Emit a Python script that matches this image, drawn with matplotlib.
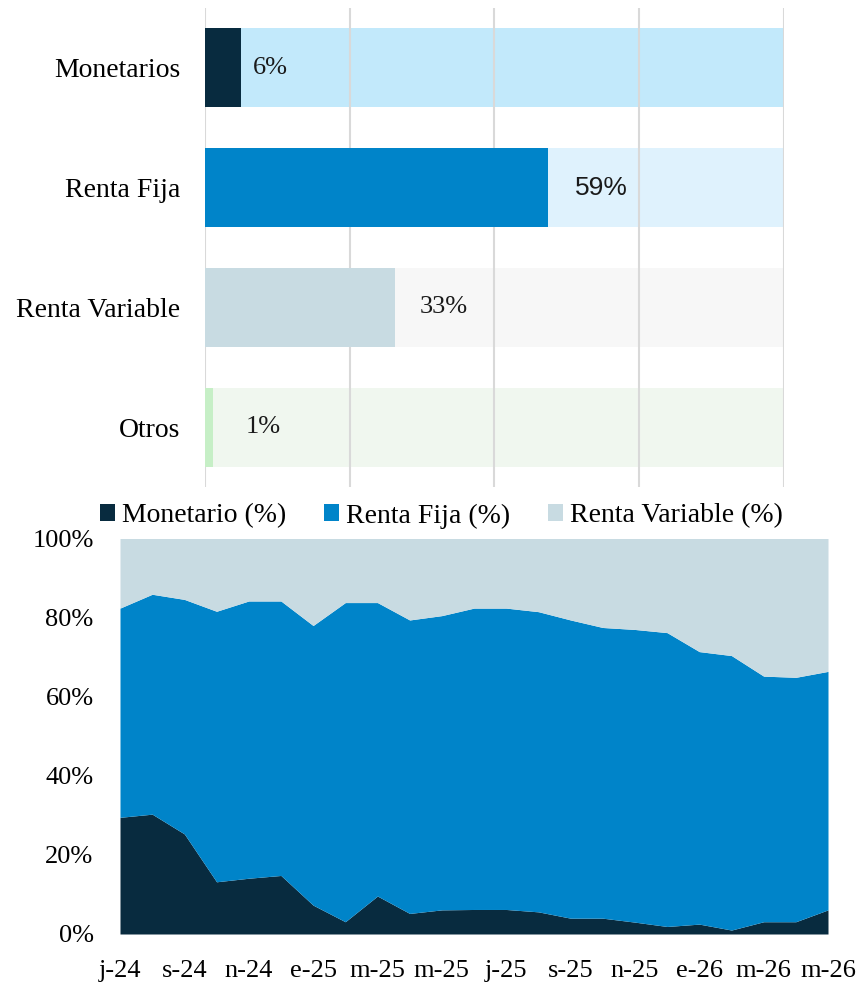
import matplotlib.pyplot as plt
import numpy as np

# === Data ===
asset_classes = ['Monetarios', 'Renta Fija', 'Renta Variable', 'Otros']
asset_pct = [6.2, 59.2, 32.8, 1.4]
asset_labels = ['6%', '59%', '33%', '1%']

month_labels = ['j-24', 's-24', 'n-24', 'e-25', 'm-25', 'm-25',
                'j-25', 's-25', 'n-25', 'e-26', 'm-26', 'm-26']
monetario = [29.5, 30.3, 25.3, 13.2, 14.1, 14.8, 7.3, 3.1, 9.6, 5.2, 6.1, 6.2,
             6.2, 5.6, 4.0, 4.0, 3.0, 1.9, 2.5, 1.0, 3.1, 3.1, 6.1]
mon_plus_rf = [82.4, 85.9, 84.6, 81.6, 84.2, 84.2, 78.0, 83.8, 83.8, 79.4, 80.5, 82.4,
               82.4, 81.5, 79.4, 77.5, 77.0, 76.2, 71.4, 70.4, 65.2, 64.9, 66.4]

# === Styles ===
fg_colors = ['#082B3F', '#0084C9', '#C8DBE2', '#C6EFC6']
bg_colors = ['#C2E9FB', '#DFF2FD', '#F7F7F7', '#F0F7EF']
label_pad = [12, 27, 25, 33]  # pixels after bar end
label_fonts = ['Liberation Serif', 'Liberation Sans', 'Liberation Serif', 'Liberation Serif']
grid_color = '#D9D9D9'

plt.rcParams['font.family'] = ['Liberation Serif', 'DejaVu Serif']

W, H = 864, 986
fig = plt.figure(figsize=(W / 100, H / 100), dpi=100)

# === Top: horizontal bars ===
ax1 = fig.add_axes([205 / W, 1 - 487 / H, (784 - 205) / W, (487 - 8) / H])
y = np.arange(len(asset_classes))
ax1.barh(y, [100] * len(y), height=0.66, color=bg_colors, zorder=1)
ax1.barh(y, asset_pct, height=0.66, color=fg_colors, zorder=3)
for xg in [0, 25, 50, 75, 100]:
    ax1.axvline(xg, color=grid_color, lw=1.5, zorder=2)
for i, v in enumerate(asset_pct):
    ax1.annotate(asset_labels[i], (v, i), xytext=(label_pad[i] * 0.72, 0),
                 textcoords='offset points', ha='left', va='center',
                 fontsize=19, family=label_fonts[i], color='#1a1a1a', zorder=4)
ax1.set_xlim(0, 100)
ax1.set_ylim(3.5, -0.5)
ax1.set_yticks(y)
ax1.set_yticklabels(asset_classes, fontsize=20)
ax1.tick_params(axis='y', length=0, pad=18)
ax1.set_xticks([])
for s in ax1.spines.values():
    s.set_visible(False)

# === Bottom: stacked area ===
ax2 = fig.add_axes([120 / W, 1 - 934 / H, (828 - 120) / W, (934 - 538.5) / H])
x = np.arange(len(monetario))
mon = np.array(monetario)
top = np.array(mon_plus_rf)
ax2.fill_between(x, 0, mon, color=fg_colors[0], lw=0, label='Monetario (%)')
ax2.fill_between(x, mon, top, color=fg_colors[1], lw=0, label='Renta Fija (%)')
ax2.fill_between(x, top, 100, color=fg_colors[2], lw=0, label='Renta Variable (%)')
ax2.set_xlim(0, len(x) - 1)
ax2.set_ylim(0, 100)
ax2.set_yticks([0, 20, 40, 60, 80, 100])
ax2.set_yticklabels([f'{t}%' for t in range(0, 101, 20)], fontsize=19)
ax2.set_xticks(x[::2])
ax2.set_xticklabels(month_labels, fontsize=19)
ax2.tick_params(length=0)
ax2.tick_params(axis='y', pad=19)
ax2.tick_params(axis='x', pad=19)
for s in ax2.spines.values():
    s.set_visible(False)

fig.legend(loc='center left', bbox_to_anchor=(100 / W, 1 - 516 / H), ncol=3,
           frameon=False, fontsize=20, handlelength=0.55, handleheight=0.55,
           handletextpad=0.25, columnspacing=1.35, borderpad=0, borderaxespad=0)

fig.savefig('out.png', dpi=100)
